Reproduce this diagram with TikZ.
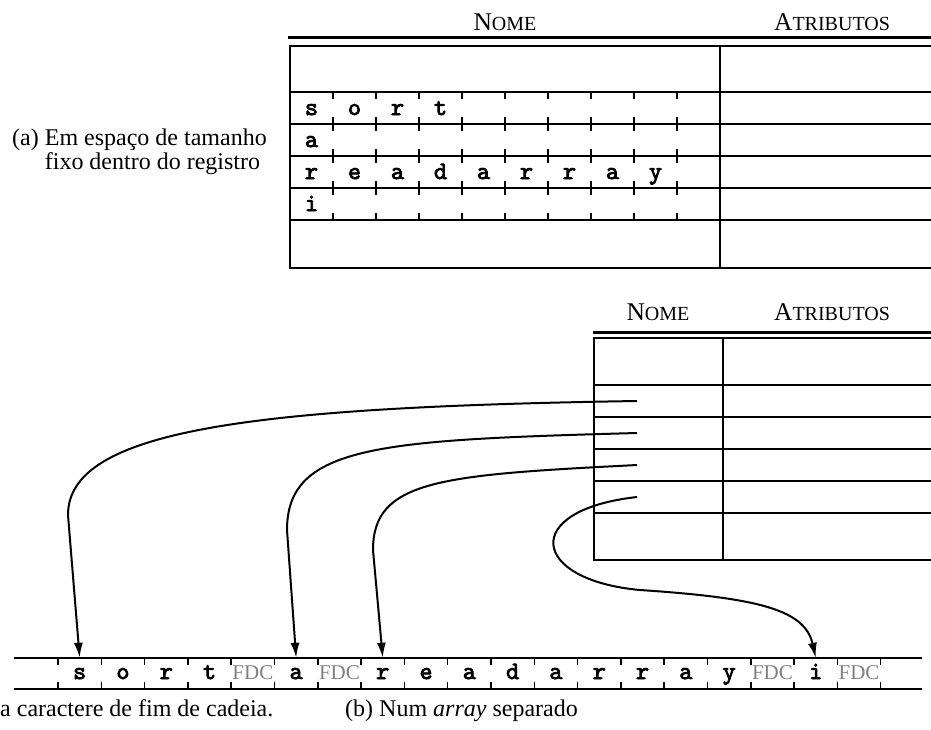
\documentclass[tikz,border=0pt]{standalone}
\usepackage{fontspec}
\setmainfont{Liberation Serif}
\newfontfamily\monob[FakeBold=3]{lmmono10-regular.otf}
\usetikzlibrary{arrows.meta}
\newcommand\mysc[2]{#1{\fontsize{20}{20}\selectfont #2}}
\tikzset{
  tbl/.style={line width=1.8pt},
  hrule/.style={line width=3pt},
  tickline/.style={line width=1.5pt},
  ch/.style={font=\monob\fontsize{25}{25}\selectfont, inner sep=0pt},
  fdc/.style={font=\fontsize{21}{21}\selectfont, text=black!50, inner sep=0pt},
  cell/.style={minimum width=43.3pt, minimum height=31pt, text height=15pt, text depth=4pt, inner sep=0pt},
  txt/.style={font=\fontsize{24}{25}\selectfont, inner sep=0pt},
  headtxt/.style={font=\fontsize{25.5}{25.5}\selectfont, inner sep=0pt, anchor=base},
  ptr/.style={line width=2pt, -{Latex[length=15pt,width=9pt]}},
}
\begin{document}
\begin{tikzpicture}[x=1pt,y=-1pt]
\fill[white] (0,0) rectangle (931,729);
\useasboundingbox (0,0) rectangle (931,729);

% ---------- (a) top table ----------
\node[headtxt] (nomeA) at (505,30) {\mysc{N}{OME}};
\node[headtxt] (atrA) at (832,30) {\mysc{A}{TRIBUTOS}};
\draw[hrule] (288,37) -- (931,37);
\draw[tbl] (931,46) -| (290,268) -- (931,268);
\foreach \y in {92,124,156,188,220} \draw[tbl] (290,\y) -- (931,\y);
\draw[tbl] (720,46) -- (720,268);
\foreach \t in {92,124,156,188}{
  \foreach \k in {1,...,9}{
    \draw[tickline] (290+43*\k,\t) -- ++(0,7);
    \draw[tickline] (290+43*\k,\t+32) -- ++(0,-7);
  }
}
\foreach \c [count=\i from 0] in {s,o,r,t}
  \node[ch, anchor=base] (ra-\i) at (311.5+43*\i,115) {\c};
\node[ch, anchor=base] (rb-0) at (311.5,147) {a};
\foreach \c [count=\i from 0] in {r,e,a,d,a,r,r,a,y}
  \node[ch, anchor=base] (rc-\i) at (311.5+43*\i,179) {\c};
\node[ch, anchor=base] (rd-0) at (311.5,211) {i};

\node[txt, anchor=base west] (la1) at (12,145) {(a) Em espaço de tamanho};
\node[txt, anchor=base west] (la2) at (12,169) {\phantom{(a) }fixo dentro do registro};

% ---------- (b) bottom table ----------
\node[headtxt] (nomeB) at (658,320) {\mysc{N}{OME}};
\node[headtxt] (atrB) at (832,320) {\mysc{A}{TRIBUTOS}};
\draw[hrule] (593,332) -- (931,332);
\draw[tbl] (931,338) -| (594,560) -- (931,560);
\foreach \y in {385,417,449,481,513} \draw[tbl] (594,\y) -- (931,\y);
\draw[tbl] (723,338) -- (723,560);

\coordinate (p1) at (637,401);
\coordinate (p2) at (637,433);
\coordinate (p3) at (637,465);
\coordinate (p4) at (637,497);

% ---------- separate array ----------
\draw[tbl] (14,658) -- (922,658);
\draw[tbl] (14,689) -- (922,689);
\foreach \k in {0,...,19}{
  \draw[tickline] (58+43.3*\k,658) -- ++(0,7);
  \draw[tickline] (58+43.3*\k,689) -- ++(0,-7);
}
\foreach \c/\s [count=\i from 0] in {s/ch,o/ch,r/ch,t/ch,FDC/fdc,a/ch,FDC/fdc,r/ch,e/ch,a/ch,d/ch,a/ch,r/ch,r/ch,a/ch,y/ch,FDC/fdc,i/ch,FDC/fdc}
  \node[\s, cell] (b\i) at (79.65+43.3*\i,673.5) {\c};

% ---------- pointers ----------
\draw[ptr] (p1) .. controls (250,407) and (68,430) .. (68,515) -- (b0.north);
\draw[ptr] (p2) .. controls (380,440) and (287,445) .. (287,530) -- (b5.north);
\draw[ptr] (p3) .. controls (440,475) and (373,480) .. (373,550) -- (b7.north);
\draw[ptr] (p4) .. controls (520,510) and (530,580) .. (640,590)
               .. controls (760,598) and (805,610) .. (b17.north);

% ---------- captions ----------
\node[txt, anchor=base west] (capa) at (0,716) {a caractere de fim de cadeia.};
\node[txt, anchor=base west] (capb) at (345,716) {(b) Num \textit{array} separado};
\end{tikzpicture}
\end{document}
